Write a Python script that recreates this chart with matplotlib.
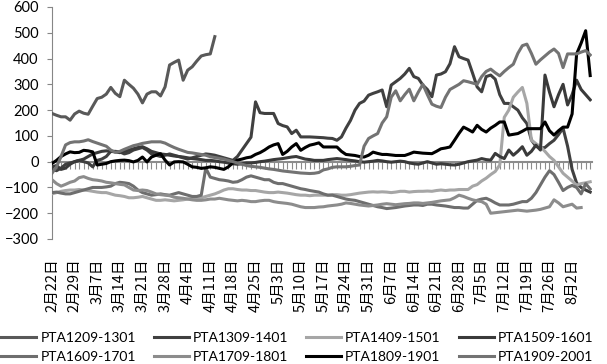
import numpy as np
import matplotlib.pyplot as plt

nan = np.nan

# category axis: 120 trading days, a label every 5th day
n_days = 120
date_labels = ["2月22日", "2月29日", "3月7日", "3月14日", "3月21日", "3月28日",
               "4月4日", "4月11日", "4月18日", "4月25日", "5月3日", "5月10日",
               "5月17日", "5月24日", "5月31日", "6月7日", "6月14日", "6月21日",
               "6月28日", "7月5日", "7月12日", "7月19日", "7月26日", "8月2日"]

pta1209 = [187, 180, 174, 174, 161, 185, 196, 188, 184, 215,
           245, 250, 262, 288, 265, 252, 316, 300, 285, 262,
           228, 262, 271, 271, 255, 290, 375, 385, 394, 316,
           355, 368, 390, 410, 415, 418, 485] + [nan] * 83

pta1309 = [-30, -35, -25, -10, -5, 0, 5, 0, -5, -20, 5, 10, 20, 40, 40, 38, 30, 35, 45, 50,
           55, 45, 30, 25, 20, 25, 30, 25, 20, 15, 10, 15, 20, 25, 30, 28, 25, 20, 15, 10,
           5, 20, 45, 70, 95, 232, 190, 187, 187, 187, 148, 140, 135, 109, 122, 96, 96, 96, 95, 94,
           93, 91, 90, 83, 96, 130, 160, 200, 226, 235, 258, 265, 271, 278, 213, 297, 310, 323, 340, 362,
           330, 323, 297, 280, 252, 336, 340, 349, 380, 446, 407, 400, 394, 343, 290, 271, 330, 336, 320, 260,
           226, 226, 213, 200, 170, 148, 84, 60, 52, 55, 70, 83, 105, 130, 60, -30, -83, -100, -110, -118]

pta1409 = [-125, -120, -115, -112, -110, -110, -108, -110, -112, -115, -118, -120, -120, -125, -130,
           -132, -135, -140, -140, -138, -135, -140, -145, -150, -150, -148, -150, -152, -150, -148,
           -145, -142, -140, -140, -135, -130, -125, -118, -110, -105, -105, -108, -110, -110, -112,
           -112, -115, -118, -120, -120, -118, -120, -122, -125, -128, -130, -130, -132, -130, -130,
           -130, -130, -128, -128, -130, -130, -128, -125, -122, -120, -118, -117, -118, -117, -118,
           -120, -118, -115, -115, -118, -116, -115, -115, -114, -115, -112, -110, -112, -110, -110,
           -108, -108, -108, -95, -89, -75, -64, -50, -38, -13, 172, 200, 250, 270, 288,
           226, 84, 70, 58, 40, 20, 5, -20, -45, -60, -75, -91, -85, -82, -78]

pta1509 = [-20, -15, -30, -25, -10, 0, 5, 10, 20, 30, 35, 40, 42, 40, 38, 35, 40, 45, 50, 55,
           58, 50, 40, 35, 30, 28, 25, 22, 20, 18, 15, 12, 10, 8, 5, 5, 3, 0, -2, -5,
           -8, -10, -8, -5, -5, -3, 0, 2, 5, 8, 10, 12, 15, 18, 20, 15, 10, 8, 5, 5,
           5, 8, 10, 12, 10, 8, 5, 3, 0, -2, 0, 2, 5, 3, 0, -2, 0, 2, 0, -5,
           -8, -10, -5, 0, -5, -10, -8, -10, -12, -13, -10, -5, 0, 3, 6, 12, 8, 6, 32, 20,
           12, 45, 25, 40, 58, 25, 40, 64, 45, 336, 270, 213, 260, 300, 220, 260, 316, 280, 260, 240]

pta1609 = [-120, -118, -122, -125, -125, -120, -115, -110, -105, -100, -100, -100, -98, -95, -85,
           -80, -82, -85, -95, -110, -120, -125, -130, -128, -125, -128, -130, -125, -120, -125,
           -130, -135, -135, -130, -25, -60, -65, -70, -72, -75, -80, -78, -70, -60, -55,
           -60, -65, -70, -70, -80, -85, -85, -90, -95, -100, -105, -108, -112, -115, -118,
           -125, -130, -130, -135, -140, -145, -148, -150, -155, -160, -165, -170, -175, -178, -182,
           -180, -178, -175, -172, -170, -168, -168, -170, -165, -165, -168, -170, -172, -175, -178,
           -178, -180, -180, -165, -150, -145, -142, -150, -160, -168, -168, -168, -165, -160, -155,
           -155, -142, -120, -90, -60, -35, -50, -80, -112, -100, -92, -100, -125, -85, -106]

pta1709 = [-70, -85, -95, -88, -80, -75, -62, -58, -65, -70, -72, -75, -80, -82, -85, -88, -90,
           -100, -110, -112, -110, -112, -118, -125, -128, -130, -132, -138, -140, -142, -145, -148,
           -150, -150, -148, -145, -145, -142, -145, -148, -150, -152, -150, -152, -155, -155, -152,
           -150, -150, -155, -158, -160, -162, -165, -170, -175, -178, -178, -178, -176,
           -175, -172, -170, -168, -165, -160, -162, -165, -168, -170, -172, -170, -168, -165, -163,
           -165, -167, -165, -163, -162, -160, -160, -162, -160, -158, -155, -152, -150, -148, -140,
           -130, -135, -142, -148, -152, -155, -165, -200, -198, -196, -194, -192, -190, -188, -190,
           -192, -190, -188, -185, -180, -175, -148, -160, -175, -170, -165, -180, -178, nan, nan]

pta1809 = [-7, 5, 20, 30, 38, 35, 36, 44, 42, 38, -13, -10, -7, 0, 3, 5, 6, 4, -1, 5,
           18, -1, 18, 25, 31, 6, -13, -1, 0, -1, -10, -20, -22, -26, -24, -20, -22, -26, -30, -20,
           -5, 6, 10, 15, 18, 28, 35, 45, 57, 65, 70, 28, 40, 57, 70, 44, 55, 64, 68, 73,
           57, 57, 57, 57, 40, 28, 26, 24, 20, 18, 25, 37, 32, 28, 28, 26, 24, 24, 24, 30,
           37, 35, 33, 32, 31, 40, 50, 53, 57, 83, 110, 134, 125, 115, 141, 125, 115, 130, 141, 154,
           154, 103, 106, 109, 118, 128, 128, 128, 128, 154, 120, 103, 120, 134, 134, 185, 418, 460, 508, 334]

pta1909 = [-45, -20, 20, 65, 74, 77, 77, 80, 85, 78, 72, 66, 60, 45, 36, 40, 48, 55, 62, 66,
           71, 74, 77, 77, 77, 72, 63, 55, 48, 42, 36, 34, 31, 28, 25, 19, 16, 13, 10, 5,
           0, -5, -10, -15, -18, -20, -22, -25, -28, -30, -33, -36, -38, -40, -42, -44, -45, -46, -45, -42,
           -32, -28, -22, -20, -20, -20, -18, -15, -13, 60, 90, 100, 109, 150, 174, 250, 275, 236, 260, 281,
           236, 270, 300, 260, 223, 215, 210, 250, 280, 290, 300, 314, 310, 305, 300, 330, 350, 359, 345, 333,
           350, 365, 378, 420, 450, 456, 420, 378, 395, 410, 425, 437, 420, 365, 418, 418, 418, 425, 431, 414]

series = [
    ("PTA1209-1301", pta1209, "#595959"),
    ("PTA1309-1401", pta1309, "#404040"),
    ("PTA1409-1501", pta1409, "#a6a6a6"),
    ("PTA1509-1601", pta1509, "#3a3a3a"),
    ("PTA1609-1701", pta1609, "#6e6e6e"),
    ("PTA1709-1801", pta1709, "#8c8c8c"),
    ("PTA1809-1901", pta1809, "#000000"),
    ("PTA1909-2001", pta1909, "#737373"),
]

plt.rcParams['font.family'] = ['Lato', 'Noto Sans CJK SC', 'DejaVu Sans']

fig = plt.figure(figsize=(6.07, 3.64), dpi=100)
ax = fig.add_axes([52 / 607, 1 - 239 / 364, 540 / 607, 232 / 364])

x = np.arange(n_days)
handles = {}
for name, vals, col in series:
    h, = ax.plot(x, np.array(vals, dtype=float), color=col, lw=2.2, label=name,
                 solid_joinstyle='round', zorder=3)
    handles[name] = h

ax.set_xlim(0, 119.4)
ax.set_ylim(-300, 600)
ax.set_yticks(range(-300, 601, 100))
ax.tick_params(axis='y', length=3.5, color='#868686', labelsize=10.5, pad=6)
for s in ['top', 'right', 'bottom']:
    ax.spines[s].set_visible(False)
ax.spines['left'].set_color('#868686')

# date labels sit below the plot, one every 5 days
ax.set_xticks([])
for i, lab in zip(range(0, n_days, 5), date_labels):
    ax.text(i, -0.085, lab, rotation=90, rotation_mode='anchor', ha='right', va='center',
            fontsize=10.5, family=['Noto Sans CJK SC', 'DejaVu Sans'],
            transform=ax.get_xaxis_transform())

# category axis crossing at zero, with a tick at each day
zero_ax = ax.secondary_xaxis(1 / 3)
zero_ax.set_xticks(x)
zero_ax.set_xticklabels([])
zero_ax.tick_params(axis='x', direction='out', length=5, width=0.8, color='#8c8c8c')
zero_ax.spines['bottom'].set_color('#8c8c8c')
zero_ax.spines['bottom'].set_linewidth(1.5)

order = ["PTA1209-1301", "PTA1609-1701", "PTA1309-1401", "PTA1709-1801",
         "PTA1409-1501", "PTA1809-1901", "PTA1509-1601", "PTA1909-2001"]
fig.legend([handles[k] for k in order], order, ncol=4, loc='lower left',
           bbox_to_anchor=(0.0, 0.0), frameon=False, fontsize=10,
           handlelength=2.5, handletextpad=0.3, columnspacing=1.3,
           labelspacing=0.5, borderpad=0.1, borderaxespad=0.0)

fig.savefig("out.png", dpi=100)
